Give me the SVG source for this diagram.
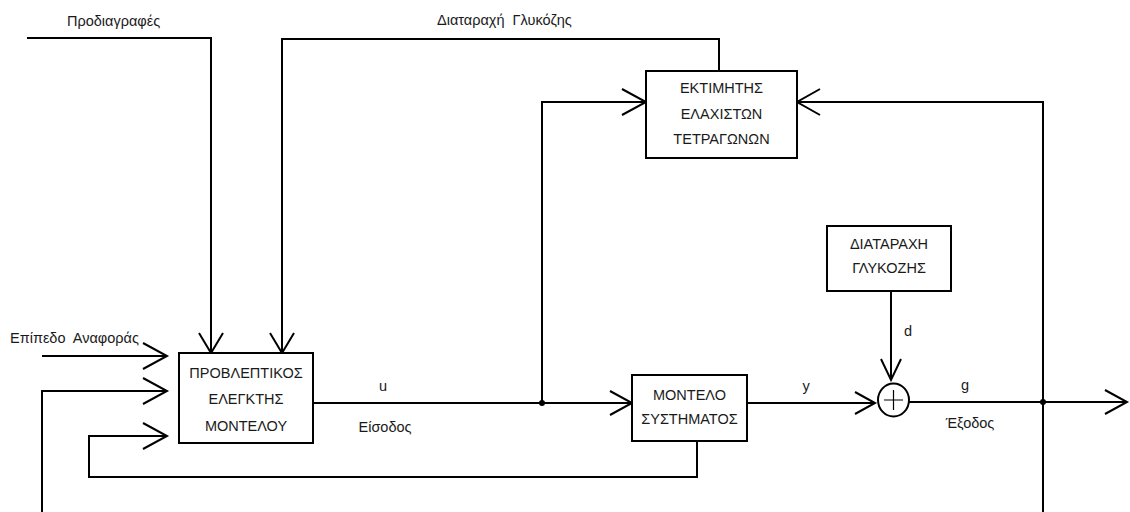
<svg xmlns="http://www.w3.org/2000/svg" width="1130" height="512" viewBox="0 0 1130 512">
  <style>
    .wire { fill: none; stroke: #000; stroke-width: 2; }
    .box { fill: #fff; stroke: #000; stroke-width: 2; }
    .txt { font-family: "Liberation Sans", Arial, sans-serif; font-size: 14.5px; fill: #1a1a1a; }
    .mid { text-anchor: middle; }
  </style>
  <rect width="1130" height="512" fill="#fff"/>

  <!-- connectors -->
  <g id="connectors">
    <!-- specifications into controller -->
    <path class="wire" d="M27 38 H211 V353"/>
    <path class="wire" d="M199 333 L211 353 L223 333"/>
    <!-- glucose disturbance feed: controller and estimator -->
    <path class="wire" d="M282 353 V39 H719 V71"/>
    <path class="wire" d="M270 333 L282 353 L294 333"/>
    <!-- reference level -->
    <path class="wire" d="M42 356 H167"/>
    <path class="wire" d="M143 343 L167 356 L143 369"/>
    <!-- output feedback to controller -->
    <path class="wire" d="M42 512 V391 H167"/>
    <path class="wire" d="M143 378 L167 391 L143 404"/>
    <!-- model feedback to controller -->
    <path class="wire" d="M697 441 V477 H89 V436 H167"/>
    <path class="wire" d="M143 423 L167 436 L143 449"/>
    <!-- controller output u -->
    <path class="wire" d="M313 403 H632"/>
    <path class="wire" d="M610 391 L632 403 L610 415"/>
    <!-- u to estimator -->
    <path class="wire" d="M542 403 V102 H646"/>
    <path class="wire" d="M622 89 L646 102 L622 115"/>
    <!-- model output y to summing junction -->
    <path class="wire" d="M747 403 H875"/>
    <path class="wire" d="M855 392 L875 403 L855 414"/>
    <!-- disturbance d -->
    <path class="wire" d="M891 291 V380"/>
    <path class="wire" d="M881 359 L891 380 L901 359"/>
    <!-- output g -->
    <path class="wire" d="M909 402 H1127"/>
    <path class="wire" d="M1105 390 L1127 402 L1105 414"/>
    <!-- g to estimator -->
    <path class="wire" d="M1043 512 V102 H797"/>
    <path class="wire" d="M820 89 L797 102 L820 115"/>
    <!-- junction dots -->
    <circle cx="542" cy="403" r="3" fill="#000"/>
    <circle cx="1043" cy="402" r="3" fill="#000"/>
  </g>

  <!-- model predictive controller -->
  <g id="controller">
    <rect class="box" x="179" y="353" width="134" height="90"/>
    <text class="txt mid" x="246" y="378">ΠΡΟΒΛΕΠΤΙΚΟΣ</text>
    <text class="txt mid" x="246" y="404">ΕΛΕΓΚΤΗΣ</text>
    <text class="txt mid" x="246" y="431">ΜΟΝΤΕΛΟΥ</text>
  </g>

  <!-- least squares estimator -->
  <g id="estimator">
    <rect class="box" x="646" y="71" width="151" height="87"/>
    <text class="txt mid" x="721.5" y="93">ΕΚΤΙΜΗΤΗΣ</text>
    <text class="txt mid" x="721.5" y="119">ΕΛΑΧΙΣΤΩΝ</text>
    <text class="txt mid" x="721.5" y="144">ΤΕΤΡΑΓΩΝΩΝ</text>
  </g>

  <!-- system model -->
  <g id="model">
    <rect class="box" x="632" y="375" width="115" height="66"/>
    <text class="txt mid" x="689.5" y="400">ΜΟΝΤΕΛΟ</text>
    <text class="txt mid" x="689.5" y="424">ΣΥΣΤΗΜΑΤΟΣ</text>
  </g>

  <!-- glucose disturbance -->
  <g id="disturbance">
    <rect class="box" x="827" y="226" width="124" height="65"/>
    <text class="txt mid" x="889" y="249">ΔΙΑΤΑΡΑΧΗ</text>
    <text class="txt mid" x="889" y="273">ΓΛΥΚΟΖΗΣ</text>
  </g>

  <!-- summing junction -->
  <g id="sum">
    <ellipse cx="893.5" cy="400" rx="15.5" ry="16.5" fill="#fff" stroke="#000" stroke-width="2"/>
    <path d="M884 400 H903 M893.5 390 V410" stroke="#000" stroke-width="1.2"/>
  </g>

  <!-- signal labels -->
  <g id="labels">
    <text class="txt" x="67" y="26">Προδιαγραφές</text>
    <text class="txt" x="437" y="25" xml:space="preserve">Διαταραχή  Γλυκόζης</text>
    <text class="txt" x="10" y="343" xml:space="preserve">Επίπεδο  Αναφοράς</text>
    <text class="txt mid" x="383" y="391">u</text>
    <text class="txt mid" x="385" y="432">Είσοδος</text>
    <text class="txt mid" x="806" y="391">y</text>
    <text class="txt mid" x="908" y="336">d</text>
    <text class="txt mid" x="965" y="390">g</text>
    <text class="txt mid" x="970" y="428">Έξοδος</text>
  </g>
</svg>
